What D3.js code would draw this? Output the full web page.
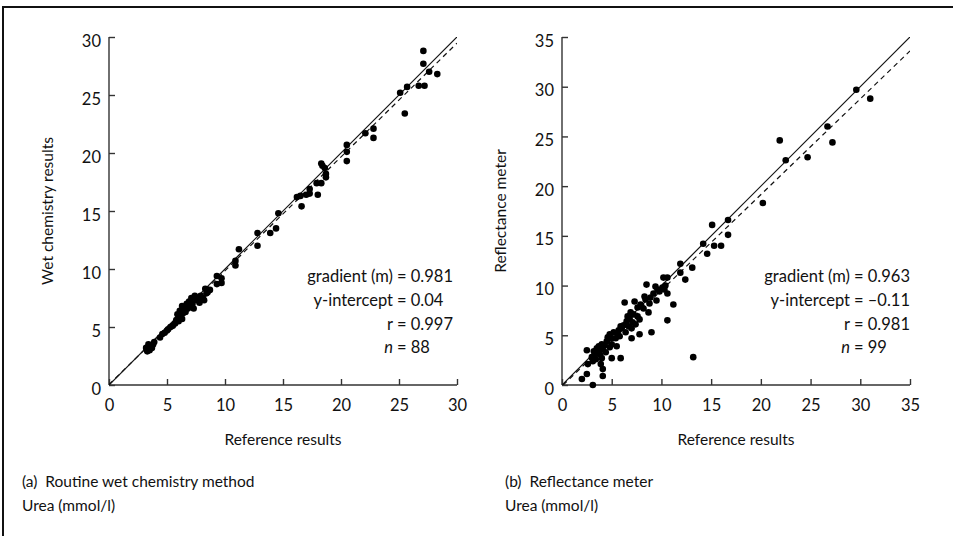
<!DOCTYPE html>
<html>
<head>
<meta charset="utf-8">
<script src="https://cdn.jsdelivr.net/npm/d3@7/dist/d3.min.js"></script>
<style>
  html, body { margin: 0; padding: 0; background: #fff; }
  svg { display: block; font-family: Lato, "Open Sans", sans-serif; }
</style>
</head>
<body>
<svg id="chart" width="953" height="536"></svg>
<script>
// Panel (a): reference results vs routine wet chemistry method, urea (mmol/l)
const wetChemistry = [
  [27.1,28.8],[27.1,27.7],[27.6,27.0],[28.3,26.8],[26.7,25.8],[27.2,25.8],[25.1,25.2],[25.7,25.7],
  [25.5,23.4],[22.1,21.7],[22.8,22.1],[22.8,21.3],[20.5,20.7],[20.5,20.1],[20.5,19.3],
  [18.3,19.1],[18.4,18.9],[18.6,18.7],[18.7,18.2],[18.7,17.9],[17.9,17.4],[18.3,17.4],[17.3,16.9],
  [17.3,16.5],[17.0,16.4],[16.5,16.3],[16.2,16.2],[18.0,16.4],[16.6,15.4],[14.6,14.8],[14.4,13.5],
  [13.9,13.1],[12.8,13.1],[12.8,12.0],[11.2,11.7],[10.9,10.7],[10.9,10.3],[9.3,9.4],[9.7,9.2],
  [9.3,8.7],[9.7,8.8],[8.3,8.3],[8.4,7.9],[8.1,7.5],[7.8,7.1],[7.4,7.7],[7.2,7.0],[7.0,6.8],
  [6.7,7.0],[6.3,6.8],[6.1,6.4],[6.4,6.2],[6.0,5.8],[6.0,5.5],[5.7,5.3],[5.1,4.8],[4.8,4.5],
  [4.4,4.1],[3.5,3.4],[3.4,3.1],[3.3,2.9],[3.7,3.2],[3.8,3.5],
  [8.5,8.0],[8.2,7.3],[7.6,7.3],[7.9,7.7],[7.1,7.5],[6.8,6.6],[6.5,6.6],[6.2,6.0],[6.6,6.3],
  [5.9,6.1],[6.3,5.7],[5.8,5.6],[5.5,5.1],[5.3,5.0],[5.0,4.7],[4.6,4.4],[3.6,3.3],[3.5,3.0],
  [3.2,3.2],[3.4,3.5],[3.9,3.7],[3.3,3.0],[7.3,6.6],[6.9,7.2],[8.7,8.2]
];

// Panel (b): reference results vs reflectance meter, urea (mmol/l)
const reflectance = [
  [29.6,29.7],[31.0,28.8],[26.7,26.0],[27.2,24.4],[21.9,24.6],[22.5,22.6],[24.7,22.9],[20.2,18.3],
  [16.7,16.6],[16.7,15.1],[15.1,16.1],[14.2,14.2],[15.3,14.0],[16.0,14.0],[14.6,13.2],[13.1,11.8],
  [11.9,12.2],[11.9,11.3],[12.4,10.6],[8.5,10.1],[10.2,10.8],[10.6,10.8],[10.4,10.0],
  [10.1,9.8],[9.6,9.6],[10.6,9.2],[9.2,9.2],[8.9,8.8],[8.4,8.6],[7.9,8.1],[7.3,8.4],[6.3,8.3],
  [7.6,7.8],[8.2,7.7],[8.7,7.3],[11.2,8.1],[7.2,7.1],[7.6,6.9],[6.8,6.7],[6.5,6.4],[7.8,6.6],
  [10.6,6.5],[7.4,6.1],[7.0,5.7],[6.0,5.7],[5.7,5.5],[7.8,5.1],[9.0,5.3],[7.0,4.7],[5.6,5.1],
  [5.4,4.7],[5.0,4.7],[4.8,5.1],[4.5,4.4],[5.0,4.1],[5.5,3.9],[4.0,4.1],[4.1,3.6],[3.5,3.7],
  [3.6,3.4],[3.8,3.1],[3.3,3.1],[3.0,2.8],[3.1,2.4],[4.0,2.7],[3.9,2.1],[4.1,1.6],[4.1,0.9],
  [5.0,2.7],[5.9,2.7],[2.5,3.5],[2.6,2.1],[2.5,1.1],[2.0,0.6],[3.1,0.0],[13.2,2.8],
  [9.8,9.4],[9.4,9.9],[8.8,8.2],[8.0,7.9],[9.5,8.5],[6.6,6.9],[7.1,6.3],[6.2,6.0],[5.9,5.9],
  [6.4,5.3],[5.2,5.3],[4.6,4.8],[4.3,4.0],[3.7,3.9],[3.2,3.4],[4.4,3.3],[3.4,2.6],[6.9,7.3],
  [8.3,8.9],[10.3,9.6],[5.8,4.9],[6.7,5.9],[4.8,3.8]
];

const ticksA = [0, 5, 10, 15, 20, 25, 30];
const ticksB = [0, 5, 10, 15, 20, 25, 30, 35];

const statsA = [
  ["gradient (m)", "0.981"],
  ["y-intercept", "0.04"],
  ["r", "0.997"],
  ["n", "88"]
];
const statsB = [
  ["gradient (m)", "0.963"],
  ["y-intercept", "\u20130.11"],
  ["r", "0.981"],
  ["n", "99"]
];
const slopeA = 0.981, interceptA = 0.04;
const slopeB = 0.963, interceptB = -0.11;

const svg = d3.select("#chart");

// outer frame
svg.append("rect")
  .attr("x", 3).attr("y", 7).attr("width", 960).attr("height", 540)
  .attr("fill", "none").attr("stroke", "#111").attr("stroke-width", 2);

function panel(opts) {
  const { left, top, size, max, ticks, data, slope, intercept, yTitle, stats,
          eqX, caption, id } = opts;
  const g = svg.append("g");
  const x = d3.scaleLinear().domain([0, max]).range([left, left + size]);
  const y = d3.scaleLinear().domain([0, max]).range([top + size, top]);

  // axes with inward ticks
  const xAxis = d3.axisBottom(x).tickValues(ticks).tickSize(-6).tickPadding(14).tickFormat(d3.format("d"));
  const yAxis = d3.axisLeft(y).tickValues(ticks).tickSize(-6).tickPadding(8).tickFormat(d3.format("d"));

  const gx = g.append("g").attr("transform", `translate(0,${top + size})`).call(xAxis);
  const gy = g.append("g").attr("transform", `translate(${left},0)`).call(yAxis);
  [gx, gy].forEach(a => {
    a.select(".domain").attr("stroke", "#333").attr("stroke-width", 1.4);
    a.selectAll(".tick line").attr("stroke", "#333").attr("stroke-width", 1.4);
    a.selectAll(".tick text").attr("font-size", 16.5).attr("fill", "#111")
      .attr("font-family", "Lato, 'Open Sans', sans-serif");
  });
  gx.select(".domain").attr("d", `M${left},0H${left + size}`);
  gy.select(".domain").attr("d", `M0,${top + size}V${top}`);
  gy.selectAll(".tick text").attr("dy", "0.55em");

  // clip for reference lines
  g.append("clipPath").attr("id", id)
    .append("rect").attr("x", left).attr("y", top).attr("width", size).attr("height", size);

  // line of identity (solid)
  g.append("line")
    .attr("clip-path", `url(#${id})`)
    .attr("x1", x(0)).attr("y1", y(0)).attr("x2", x(max)).attr("y2", y(max))
    .attr("stroke", "#111").attr("stroke-width", 1.2);

  // regression line (dashed)
  const x0 = Math.max(0, -intercept / slope);
  g.append("line")
    .attr("clip-path", `url(#${id})`)
    .attr("x1", x(x0)).attr("y1", y(slope * x0 + intercept))
    .attr("x2", x(max)).attr("y2", y(slope * max + intercept))
    .attr("stroke", "#111").attr("stroke-width", 1.2).attr("stroke-dasharray", "5,4");

  // points
  g.append("g").selectAll("circle").data(data).join("circle")
    .attr("cx", d => x(d[0])).attr("cy", d => y(d[1])).attr("r", 3.3)
    .attr("fill", "#000");

  // axis titles
  g.append("text")
    .attr("x", left + size / 2).attr("y", top + size + 60)
    .attr("text-anchor", "middle").attr("font-size", 15.5).attr("fill", "#111")
    .text("Reference results");
  g.append("text")
    .attr("transform", `translate(${left - 56},${top + size / 2}) rotate(-90)`)
    .attr("text-anchor", "middle").attr("font-size", 15.5).attr("fill", "#111")
    .text(yTitle);

  // regression statistics
  const st = g.append("g").attr("font-size", 16.5).attr("fill", "#111");
  stats.forEach((s, i) => {
    const yy = top + 245 + i * 23.8;
    const lab = st.append("text").attr("x", eqX - 4).attr("y", yy).attr("text-anchor", "end").text(s[0]);
    if (s[0] === "n") lab.attr("font-style", "italic");
    st.append("text").attr("x", eqX).attr("y", yy).text("= " + s[1]);
  });

  // caption
  const cap = g.append("g").attr("font-size", 15.5).attr("fill", "#111");
  cap.append("text").attr("x", caption.x).attr("y", 487).attr("xml:space", "preserve").text(caption.line1);
  cap.append("text").attr("x", caption.x).attr("y", 511).text("Urea (mmol/l)");
}

panel({
  id: "clipA", left: 109, top: 37, size: 348, max: 30, ticks: ticksA,
  data: wetChemistry, slope: slopeA, intercept: interceptA,
  yTitle: "Wet chemistry results", stats: statsA, eqX: 397,
  caption: { x: 22, line1: "(a)  Routine wet chemistry method" }
});
panel({
  id: "clipB", left: 562, top: 37, size: 348, max: 35, ticks: ticksB,
  data: reflectance, slope: slopeB, intercept: interceptB,
  yTitle: "Reflectance meter", stats: statsB, eqX: 854,
  caption: { x: 505, line1: "(b)  Reflectance meter" }
});
</script>
</body>
</html>
